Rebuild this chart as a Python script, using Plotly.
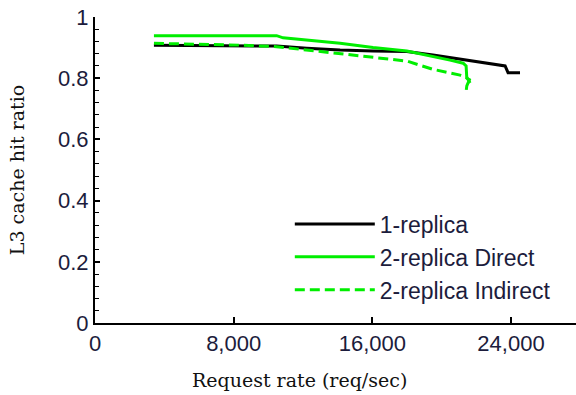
import plotly.graph_objects as go

# Request rate (req/sec) and L3 cache hit ratio for each configuration
rate_1rep = [3400, 10480, 12220, 14140, 16040, 17990, 19500, 21470, 22200, 23370, 23660, 23830, 24520]
hit_1rep = [0.908, 0.905, 0.898, 0.892, 0.889, 0.887, 0.876, 0.859, 0.854, 0.843, 0.840, 0.818, 0.818]

rate_direct = [3400, 10480, 10850, 12220, 14140, 16040, 17990, 20480, 21240, 21410, 21450, 21600, 21450, 21420]
hit_direct = [0.939, 0.939, 0.932, 0.925, 0.914, 0.900, 0.889, 0.859, 0.849, 0.840, 0.800, 0.795, 0.775, 0.762]

rate_indirect = [3400, 8370, 10480, 12220, 14140, 16040, 17990, 19500, 21060, 21470, 21640]
hit_indirect = [0.914, 0.908, 0.903, 0.892, 0.881, 0.867, 0.856, 0.829, 0.810, 0.801, 0.784]

x_ticks = [0, 8000, 16000, 24000]
x_ticklabels = ["0", "8,000", "16,000", "24,000"]
y_ticks = [0, 0.2, 0.4, 0.6, 0.8, 1.0]
y_ticklabels = ["0", "0.2", "0.4", "0.6", "0.8", "1"]

GREEN = "#00ee00"
TICK_FONT = dict(family="Liberation Sans, Arial, sans-serif", size=22, color="#1c1c3c")
TITLE_FONT = dict(family="DejaVu Serif, serif", size=19, color="#111111")

fig = go.Figure()
fig.add_trace(go.Scatter(x=rate_1rep, y=hit_1rep, mode="lines", name="1-replica",
                         line=dict(color="black", width=3)))
fig.add_trace(go.Scatter(x=rate_direct, y=hit_direct, mode="lines", name="2-replica Direct",
                         line=dict(color=GREEN, width=3)))
fig.add_trace(go.Scatter(x=rate_indirect, y=hit_indirect, mode="lines", name="2-replica Indirect",
                         line=dict(color=GREEN, width=3, dash="10px,5px")))

fig.update_layout(
    width=576, height=395,
    margin=dict(l=95, r=0, t=17, b=72),
    plot_bgcolor="white", paper_bgcolor="white",
    showlegend=True,
    legend=dict(x=0.405, y=0.394, xanchor="left", yanchor="top",
                font=dict(family="Liberation Sans, Arial, sans-serif", size=23, color="#1c1c3c"),
                bgcolor="rgba(0,0,0,0)", itemwidth=80, tracegroupgap=0),
    annotations=[dict(text="Request rate (req/sec)", xref="paper", yref="paper",
                      x=0.426, y=-0.187, xanchor="center", yanchor="middle",
                      showarrow=False, font=TITLE_FONT)],
)
fig.update_xaxes(
    range=[0, 27750], tickvals=x_ticks, ticktext=x_ticklabels,
    showgrid=False, zeroline=False, showline=True, linecolor="black", linewidth=2,
    ticks="inside", ticklen=6, tickwidth=1.5, tickcolor="black",
    tickfont=TICK_FONT,
)
fig.update_yaxes(
    range=[0, 1.0], tickvals=y_ticks, ticktext=y_ticklabels,
    showgrid=False, zeroline=False, showline=True, linecolor="black", linewidth=2,
    ticks="inside", ticklen=5, tickwidth=1.5, tickcolor="black",
    minor=dict(ticks="inside", ticklen=4, tickwidth=1.2, tickcolor="black", dtick=0.04),
    tickfont=TICK_FONT,
    title=dict(text="L3 cache hit ratio", font=TITLE_FONT, standoff=28),
)

fig.write_html("out.html")
